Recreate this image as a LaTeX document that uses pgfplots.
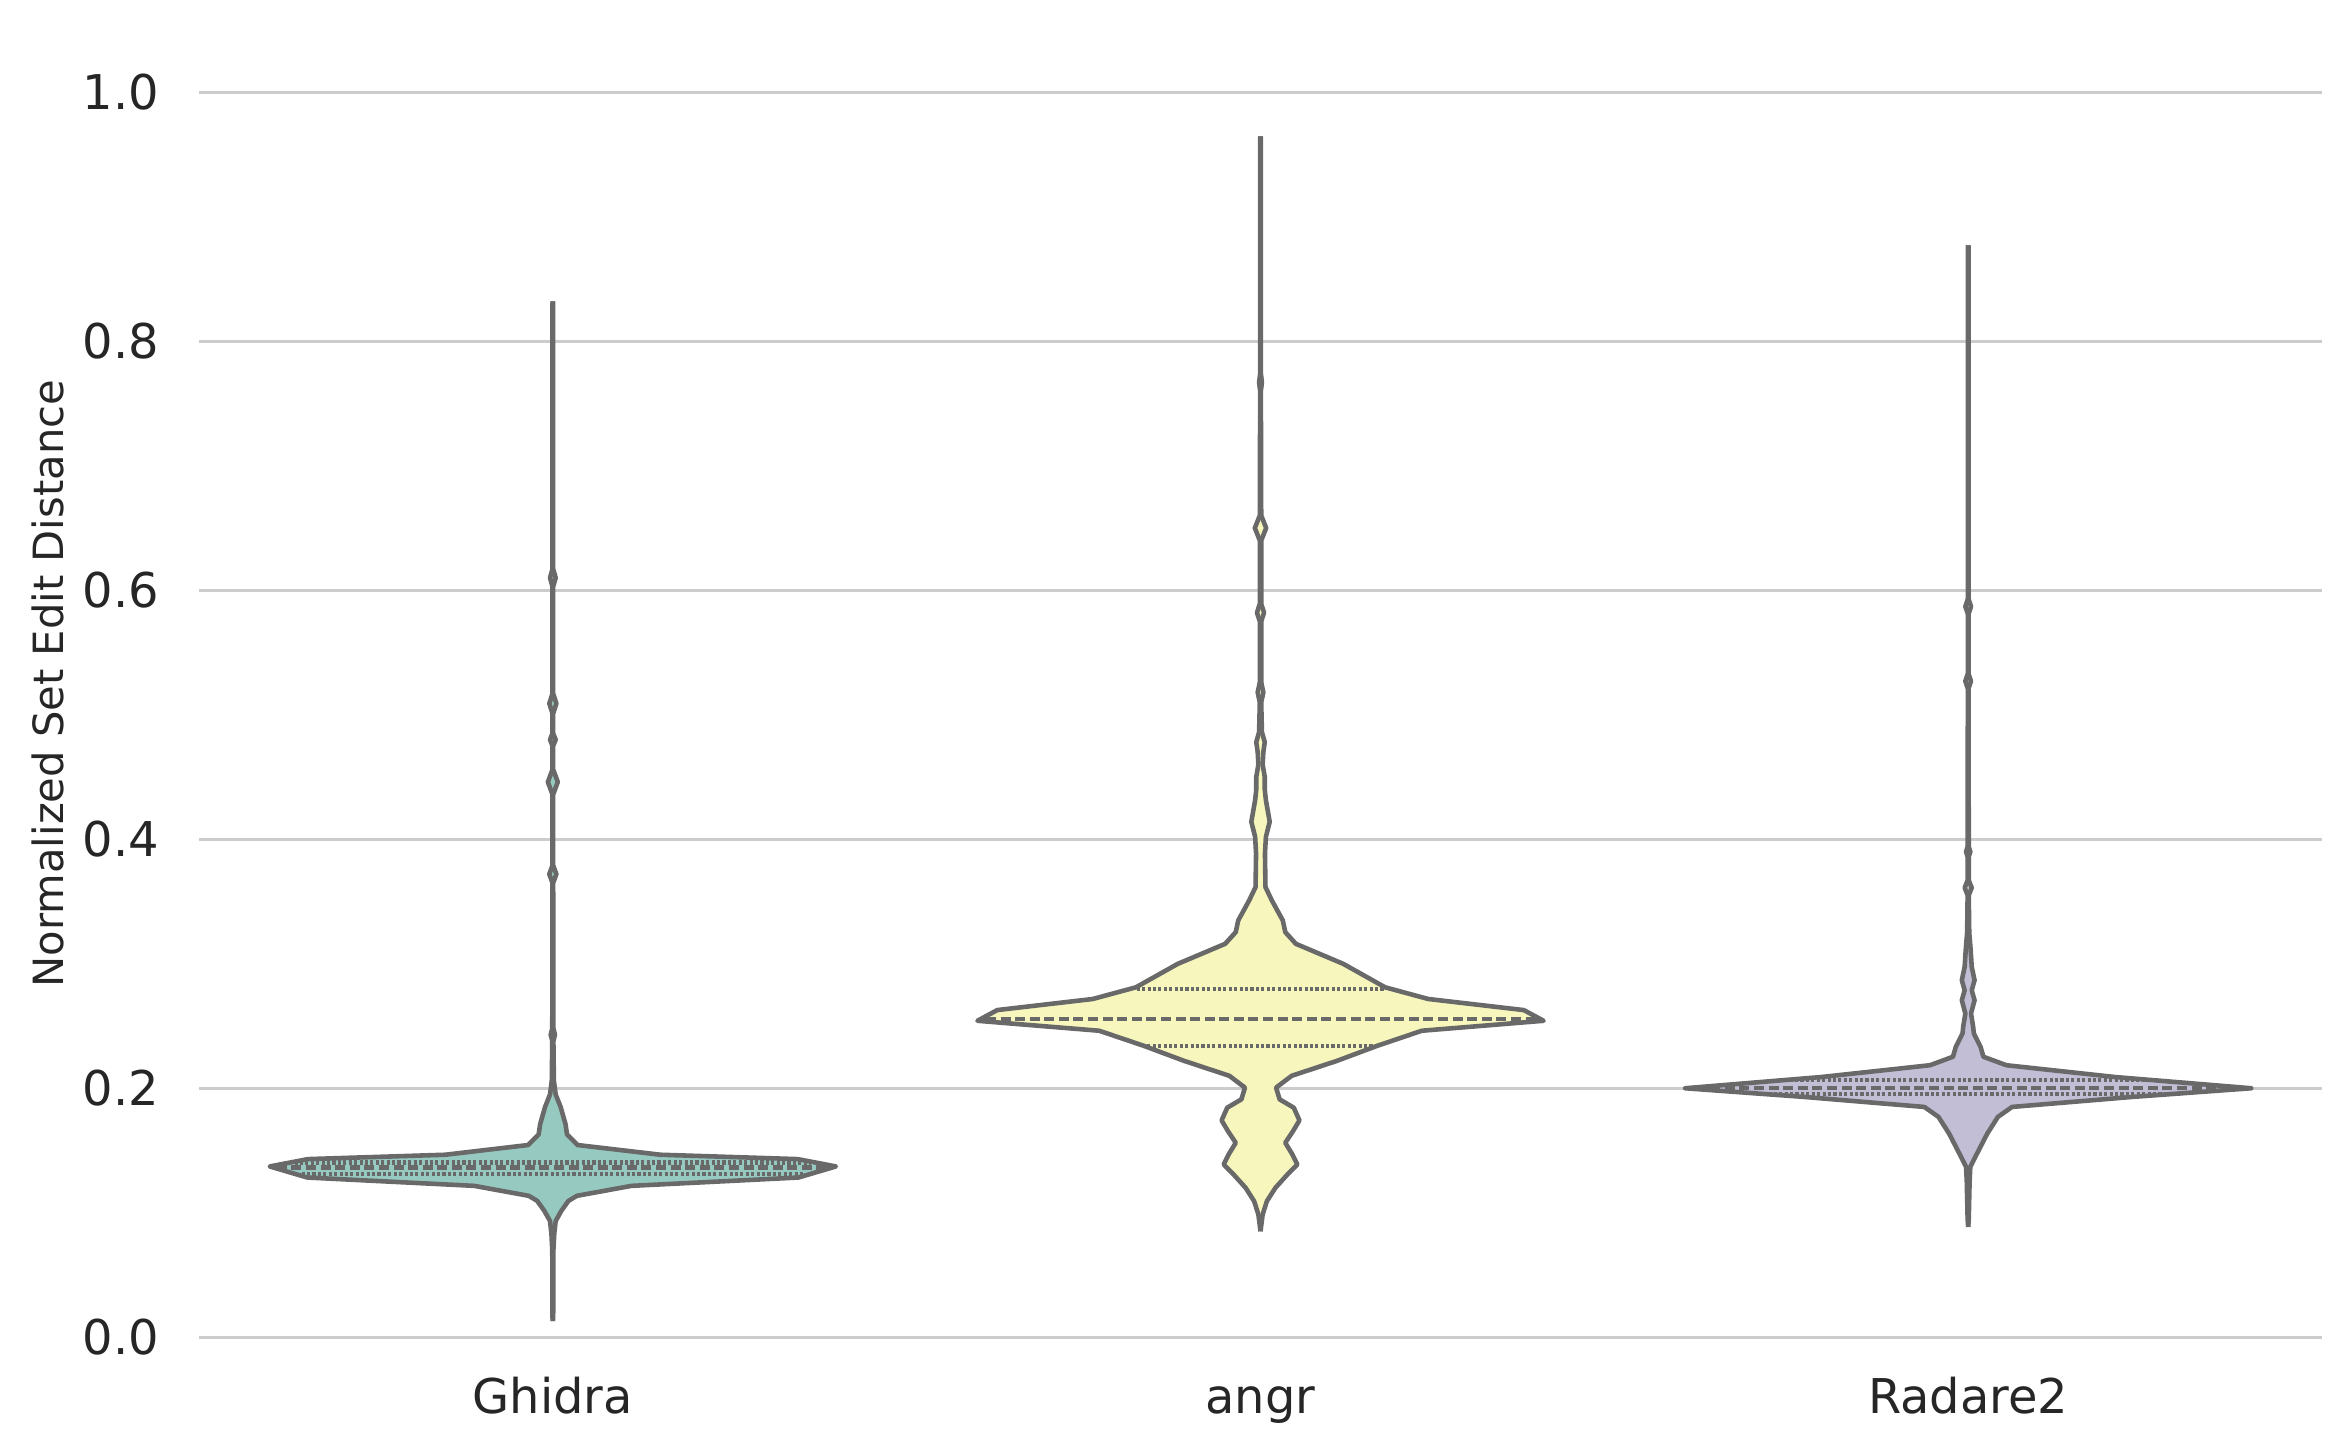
\documentclass[border=0pt]{standalone}
\usepackage{fontspec}
\setmainfont{DejaVu Sans}
\usepackage{pgfplots}
\usepackage{pgfplotstable}
\pgfplotsset{compat=1.18}
\usepgfplotslibrary{fillbetween}
\usetikzlibrary{calc}

\definecolor{ghidrafill}{HTML}{96CAC1}
\definecolor{angrfill}{HTML}{F6F6BD}
\definecolor{radarefill}{HTML}{C1BED6}
\definecolor{edgegray}{HTML}{696969}
\definecolor{gridgray}{HTML}{CCCCCC}
\definecolor{textgray}{HTML}{262626}

% violin half-widths (x units) against value
\pgfplotstableread{
y w
0.013 0
0.016 0.0005
0.070 0.0008
0.083 0.0020
0.0934 0.004
0.1015 0.012
0.1095 0.022
0.1136 0.034
0.1216 0.111
0.1283 0.347
0.1372 0.400
0.1431 0.346
0.1466 0.152
0.1544 0.035
0.163 0.020
0.171 0.018
0.185 0.011
0.195 0.004
0.206 0.0015
0.238 0.0008
0.243 0.003
0.248 0.0008
0.365 0.0005
0.372 0.005
0.379 0.0005
0.436 0.0005
0.446 0.007
0.456 0.0005
0.475 0.0005
0.480 0.004
0.485 0.0005
0.501 0.0005
0.509 0.005
0.517 0.0005
0.603 0.0005
0.610 0.004
0.617 0.0005
0.830 0.0005
0.832 0
}\ghidra

\pgfplotstableread{
y w
0.0851 0
0.0986 0.003
0.1093 0.009
0.1200 0.021
0.1307 0.038
0.1388 0.052
0.1469 0.045
0.1562 0.035
0.1656 0.046
0.1742 0.055
0.1844 0.047
0.1911 0.027
0.2005 0.022
0.2100 0.044
0.2220 0.108
0.2341 0.165
0.2462 0.228
0.2542 0.400
0.2628 0.372
0.2717 0.237
0.2811 0.176
0.2999 0.117
0.3160 0.050
0.3254 0.035
0.3348 0.0315
0.3509 0.016
0.3616 0.007
0.3885 0.0063
0.4019 0.0076
0.4140 0.013
0.4314 0.0076
0.440 0.006
0.450 0.006
0.460 0.003
0.470 0.004
0.478 0.006
0.486 0.002
0.510 0.001
0.518 0.004
0.526 0.001
0.575 0.001
0.582 0.005
0.589 0.001
0.640 0.001
0.650 0.008
0.660 0.001
0.760 0.0005
0.767 0.002
0.774 0.0005
0.963 0.0005
0.9645 0
}\angr

\pgfplotstableread{
y w
0.0886 0
0.095 0.0008
0.125 0.002
0.1369 0.003
0.1448 0.010
0.1636 0.027
0.1770 0.042
0.1850 0.062
0.1930 0.231
0.2000 0.400
0.2090 0.208
0.2185 0.054
0.2253 0.0215
0.2333 0.0175
0.2440 0.008
0.2495 0.007
0.2600 0.004
0.2707 0.009
0.2787 0.005
0.2868 0.009
0.2975 0.005
0.311 0.0035
0.325 0.0015
0.355 0.0008
0.361 0.005
0.367 0.0008
0.386 0.0008
0.390 0.003
0.394 0.0008
0.521 0.0005
0.527 0.004
0.533 0.0005
0.581 0.0005
0.587 0.004
0.593 0.0005
0.876 0.0005
0.877 0
}\radare

\begin{document}
\begin{tikzpicture}[font=\fontsize{11.5}{13}\selectfont]
\begin{axis}[
    width=509.52pt, height=313.74pt, scale only axis,
    xmin=-0.5, xmax=2.5,
    ymin=0, ymax=1.05,
    xtick={0,1,2},
    xticklabels={Ghidra,angr,Radare2},
    ytick={0,0.2,0.4,0.6,0.8,1.0},
    /pgf/number format/fixed,
    /pgf/number format/fixed zerofill,
    /pgf/number format/precision=1,
    /pgf/number format/assume math mode=true,
    yticklabel style={inner sep=0pt, anchor=east, xshift=-9.4pt, text=textgray},
    xticklabel style={inner sep=0pt, anchor=north, yshift=-9.3pt, text=textgray,
        text height=8.7pt, text depth=2.7pt},
    major tick length=0pt,
    axis line style={draw=none},
    tick style={draw=none},
    ymajorgrids=true,
    grid style={color=gridgray, line width=0.8pt},
    ylabel={Normalized Set Edit Distance},
    ylabel style={at={(axis description cs:0,0.5)}, anchor=center, yshift=36.2pt,
        font=\fontsize{10}{12}\selectfont, text=textgray},
    clip=false,
    edge/.style={draw=edgegray, line width=1.1pt, line join=round, no markers},
    quart/.style={draw=edgegray, line width=1pt, no markers,
        dash pattern=on 0.75pt off 0.55pt},
    med/.style={draw=edgegray, line width=1pt, no markers,
        dash pattern=on 2.4pt off 1.1pt},
]
\coordinate (bl) at (rel axis cs:0,0);
\coordinate (tr) at (rel axis cs:1,1);

% Ghidra
\addplot[draw=none, name path=gR] table[x expr={0+\thisrow{w}}, y=y] {\ghidra};
\addplot[draw=none, name path=gL] table[x expr={0-\thisrow{w}}, y=y] {\ghidra};
\addplot[ghidrafill] fill between[of=gR and gL];
\addplot[edge] table[x expr={0+\thisrow{w}}, y=y] {\ghidra};
\addplot[edge] table[x expr={0-\thisrow{w}}, y=y] {\ghidra};
\addplot[quart] coordinates {(-0.365,0.1404) (0.365,0.1404)};
\addplot[med] coordinates {(-0.39,0.1364) (0.39,0.1364)};
\addplot[quart] coordinates {(-0.355,0.131) (0.355,0.131)};

% angr
\addplot[draw=none, name path=aR] table[x expr={1+\thisrow{w}}, y=y] {\angr};
\addplot[draw=none, name path=aL] table[x expr={1-\thisrow{w}}, y=y] {\angr};
\addplot[angrfill] fill between[of=aR and aL];
\addplot[edge] table[x expr={1+\thisrow{w}}, y=y] {\angr};
\addplot[edge] table[x expr={1-\thisrow{w}}, y=y] {\angr};
\addplot[quart] coordinates {(0.825,0.2797) (1.175,0.2797)};
\addplot[med] coordinates {(0.612,0.2556) (1.388,0.2556)};
\addplot[quart] coordinates {(0.84,0.2341) (1.16,0.2341)};

% Radare2
\addplot[draw=none, name path=rR] table[x expr={2+\thisrow{w}}, y=y] {\radare};
\addplot[draw=none, name path=rL] table[x expr={2-\thisrow{w}}, y=y] {\radare};
\addplot[radarefill] fill between[of=rR and rL];
\addplot[edge] table[x expr={2+\thisrow{w}}, y=y] {\radare};
\addplot[edge] table[x expr={2-\thisrow{w}}, y=y] {\radare};
\addplot[quart] coordinates {(1.74,0.2064) (2.26,0.2064)};
\addplot[med] coordinates {(1.615,0.2005) (2.385,0.2005)};
\addplot[quart] coordinates {(1.71,0.1957) (2.29,0.1957)};
\end{axis}
\pgfresetboundingbox
\path[use as bounding box] ($(bl)+(-47.76pt,-27.36pt)$) rectangle ($(tr)+(6.72pt,7.2pt)$);
\end{tikzpicture}
\end{document}
